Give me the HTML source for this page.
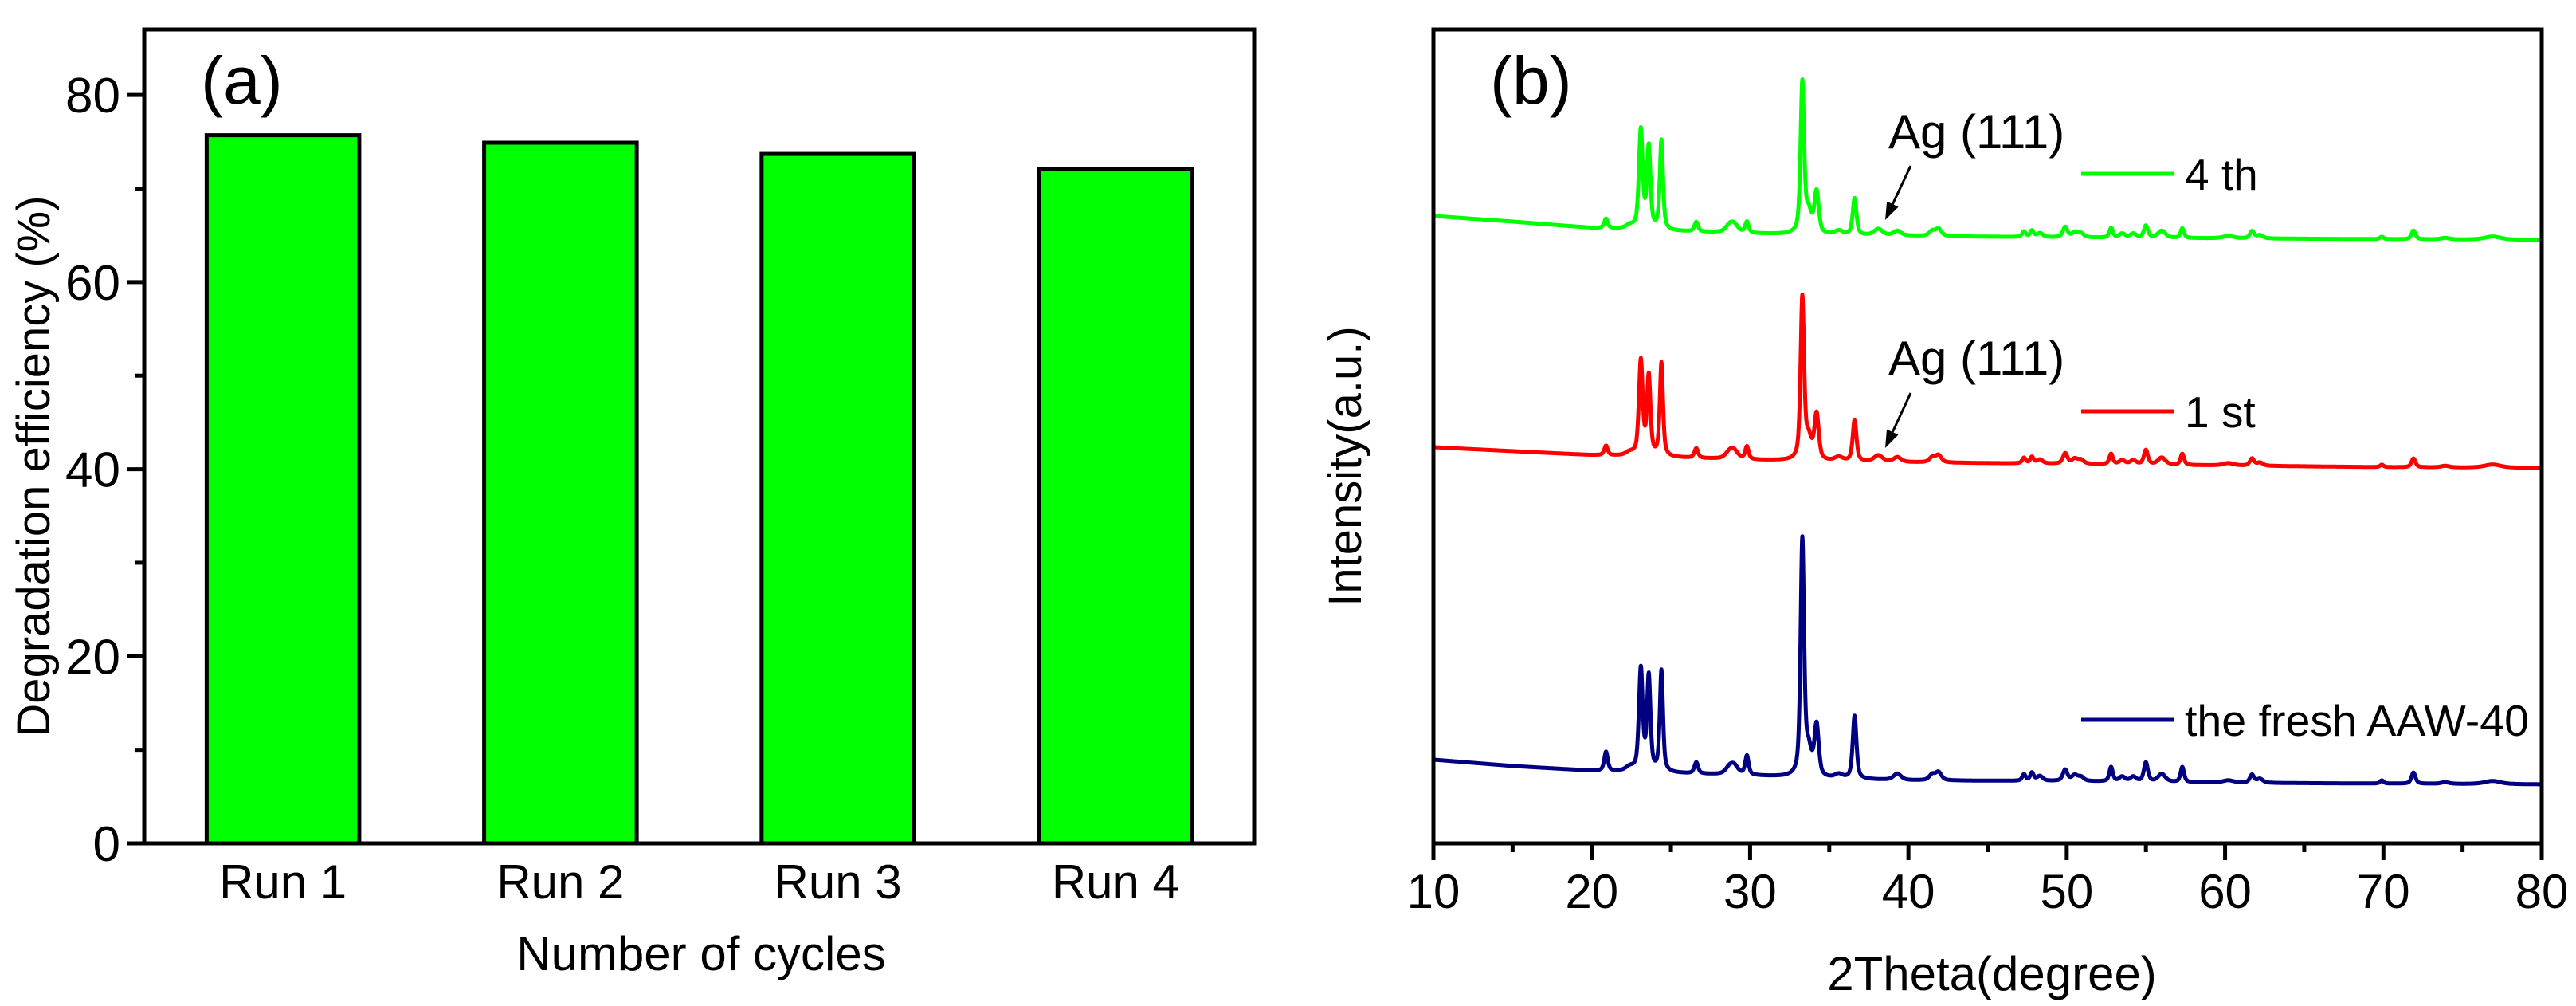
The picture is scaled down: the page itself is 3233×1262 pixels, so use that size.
<!DOCTYPE html>
<html><head><meta charset="utf-8"><style>
html,body{margin:0;padding:0;background:#fff;}
svg{display:block;font-family:"Liberation Sans",Arial,sans-serif;}
</style></head><body>
<svg id="fig" width="3233" height="1262" viewBox="0 0 3233 1262" xmlns="http://www.w3.org/2000/svg">
<g id="pa"></g>
<g id="pb"></g>
</svg>
<script>
// ---------- Panel (a) data ----------
const runLabels = ["Run 1", "Run 2", "Run 3", "Run 4"];
const runValues = [75.7, 74.9, 73.7, 72.1];
const aTicks = [0, 20, 40, 60, 80];
const aMinorTicks = [10, 30, 50, 70];

// ---------- Panel (b) data ----------
const xTicks = [10, 20, 30, 40, 50, 60, 70, 80];
const xMinorTicks = [15, 25, 35, 45, 55, 65, 75];
const peakPos   = [20.9,22.4,23.1,23.6,24.4,26.6,28.7,29.0,29.8,33.3,33.7,34.2,35.6,36.6,38.1,39.3,41.5,41.9,47.3,47.8,48.3,49.9,50.5,50.9,52.8,53.5,54.2,55.0,56.0,57.3,60.2,61.7,62.2,69.9,71.9,73.9,76.9];
const peakW     = [0.13,0.3,0.14,0.13,0.12,0.14,0.3,0.3,0.13,0.13,0.22,0.16,0.3,0.14,0.32,0.28,0.22,0.22,0.13,0.13,0.22,0.17,0.22,0.22,0.13,0.22,0.22,0.15,0.28,0.13,0.4,0.16,0.22,0.13,0.15,0.3,0.6];
const blueH     = [24,5,128,118,127,14,8,10,24,296,30,64,5,79,0,8,7,10,8,10,6,14,7,5,18,6,6,24,10,19,3,10,5,4,14,2,4];
const redH      = [12,4,119,99,117,12,8,9,16,203,25,57,5,52,8,6,6,9,7,8,5,13,6,5,13,5,5,18,9,14,3,9,4,3,11,2,4];
const greenH    = [12,4,124,102,112,12,8,9,14,189,25,52,5,46,8,6,6,9,7,8,5,13,6,5,12,5,5,15,9,12,3,9,4,3,11,2,4];
const baseX     = [10,15,20,25,30,35,40,50,60,70,80];
const blueBase  = [105,97,91,88,85,81,79,78,76,75,74];
const redBase   = [497,492,487,484,481,479,478,476,474,472,471];
const greenBase = [787,780,772,768,765,763,762,760,759,758,757];

const NS = "http://www.w3.org/2000/svg";
function mk(parent, tag, attrs, text){
  const e = document.createElementNS(NS, tag);
  for (const k in attrs) e.setAttribute(k, attrs[k]);
  if (text !== undefined) e.textContent = text;
  parent.appendChild(e);
  return e;
}

// ---------- Panel (a) ----------
(function(){
  const g = document.getElementById('pa');
  const L = 181, R = 1574, T = 37, B = 1058;
  const yMax = 87;
  const yS = v => B - v / yMax * (B - T);
  const band = (R - L) / runLabels.length;
  const xC = i => L + band * (i + 0.5);
  const bw = band * 0.55;

  runValues.forEach((v, i) => {
    const r = mk(g, 'rect', {x: xC(i) - bw/2, y: yS(v), width: bw, height: B - yS(v), fill: '#00ff00', stroke: '#000', 'stroke-width': 5});
    
    
    const t = mk(g, 'text', {x: xC(i), y: 1127, 'font-size': 60, 'text-anchor': 'middle'}, runLabels[i]);
    
    
  });
  const box = mk(g, 'rect', {x: L, y: T, width: R - L, height: B - T, fill: 'none', stroke: '#000', 'stroke-width': 5});
  
  
  aTicks.forEach(v => {
    const l = mk(g, 'line', {x1: L - 22, x2: L, y1: yS(v), y2: yS(v), stroke: '#000', 'stroke-width': 5});
    
    
    const t = mk(g, 'text', {x: L - 30, y: yS(v) + 22, 'font-size': 62, 'text-anchor': 'end'}, String(v));
    
    
  });
  aMinorTicks.forEach(v => {
    const l = mk(g, 'line', {x1: L - 12, x2: L, y1: yS(v), y2: yS(v), stroke: '#000', 'stroke-width': 5});
    
    
  });
  const yt = mk(g, 'text', {x: 62, y: 585, 'font-size': 58, 'text-anchor': 'middle', transform: 'rotate(-90 62 585)'}, 'Degradation efficiency (%)');
  
  
  const xt = mk(g, 'text', {x: 880, y: 1217, 'font-size': 60, 'text-anchor': 'middle'}, 'Number of cycles');
  
  
  const pl = mk(g, 'text', {x: 252, y: 130, 'font-size': 84}, '(a)');
  
  
})();

// ---------- Panel (b) ----------
(function(){
  const g = document.getElementById('pb');
  const L = 1799, R = 3190, T = 37, B = 1058;
  const xS = v => L + (v - 10) / 70 * (R - L);
  const yS = v => B - v;   // 1 a.u. = 1 px
  function baseAt(arr, x){
    for (let i = 0; i < baseX.length - 1; i++) {
      if (x <= baseX[i+1]) {
        const f = (x - baseX[i]) / (baseX[i+1] - baseX[i]);
        return arr[i] + f * (arr[i+1] - arr[i]);
      }
    }
    return arr[arr.length-1];
  }
  function pathFor(heights, base){
    let d = '';
    for (let x = 10; x <= 80.0001; x += 0.02) {
      let y = baseAt(base, x);
      for (let k = 0; k < peakPos.length; k++) {
        const u = (x - peakPos[k]) / peakW[k];
        y += heights[k] * (0.6 / (1 + u*u) + 0.4 * Math.exp(-0.693 * u*u));
      }
      d += (d ? 'L' : 'M') + xS(x).toFixed(1) + ' ' + yS(y).toFixed(1);
    }
    return d;
  }
  const series = [
    {h: greenH, b: greenBase, c: '#00ff00', n: 'series-4th'},
    {h: redH, b: redBase, c: '#ff0000', n: 'series-1st'},
    {h: blueH, b: blueBase, c: '#000080', n: 'series-fresh-aaw-40'}
  ];
  series.forEach(s => {
    const p = mk(g, 'path', {d: pathFor(s.h, s.b), fill: 'none', stroke: s.c, 'stroke-width': 5, 'stroke-linejoin': 'round'});
    
    
  });
  const box = mk(g, 'rect', {x: L, y: T, width: R - L, height: B - T, fill: 'none', stroke: '#000', 'stroke-width': 5});
  
  
  xTicks.forEach(v => {
    const l = mk(g, 'line', {x1: xS(v), x2: xS(v), y1: B, y2: B + 21, stroke: '#000', 'stroke-width': 5});
    
    
    const t = mk(g, 'text', {x: xS(v), y: 1139, 'font-size': 60, 'text-anchor': 'middle'}, String(v));
    
    
  });
  xMinorTicks.forEach(v => {
    const l = mk(g, 'line', {x1: xS(v), x2: xS(v), y1: B, y2: B + 11, stroke: '#000', 'stroke-width': 5});
    
    
  });
  const xt = mk(g, 'text', {x: 2500, y: 1242, 'font-size': 60, 'text-anchor': 'middle'}, '2Theta(degree)');
  
  
  const yt = mk(g, 'text', {x: 1708, y: 585, 'font-size': 58, 'text-anchor': 'middle', transform: 'rotate(-90 1708 585)'}, 'Intensity(a.u.)');
  
  
  const pl = mk(g, 'text', {x: 1870, y: 130, 'font-size': 84}, '(b)');
  
  

  // legend
  const leg = [
    {y: 218, c: '#00ff00', t: '4 th', n: 'legend-entry-4th'},
    {y: 516, c: '#ff0000', t: '1 st', n: 'legend-entry-1st'},
    {y: 903, c: '#000080', t: 'the fresh AAW-40', n: 'legend-entry-fresh'}
  ];
  leg.forEach(e => {
    const lg = mk(g, 'g', {});
    
    
    mk(lg, 'line', {x1: 2612, x2: 2728, y1: e.y, y2: e.y, stroke: e.c, 'stroke-width': 5});
    const attrs = {x: 2742, y: e.y + 20, 'font-size': 55};
    if (e.t.length > 6) { attrs.textLength = 432; attrs.lengthAdjust = 'spacingAndGlyphs'; }
    mk(lg, 'text', attrs, e.t);
  });

  // Ag (111) annotations
  [{ty: 186, ax1: 2398, ay1: 208, ax2: 2366, ay2: 276}, {ty: 470, ax1: 2398, ay1: 493, ax2: 2366, ay2: 562}].forEach((a, i) => {
    const ag = mk(g, 'g', {});
    
    
    mk(ag, 'text', {x: 2370, y: a.ty, 'font-size': 60}, 'Ag (111)');
    const dx = a.ax2 - a.ax1, dy = a.ay2 - a.ay1, len = Math.hypot(dx, dy);
    const ux = dx/len, uy = dy/len;
    const hx = a.ax2 - ux*22, hy = a.ay2 - uy*22;
    mk(ag, 'line', {x1: a.ax1, y1: a.ay1, x2: hx, y2: hy, stroke: '#000', 'stroke-width': 3});
    mk(ag, 'polygon', {points: `${a.ax2},${a.ay2} ${hx - uy*8},${hy + ux*8} ${hx + uy*8},${hy - ux*8}`, fill: '#000'});
  });
})();
</script>
</body></html>
